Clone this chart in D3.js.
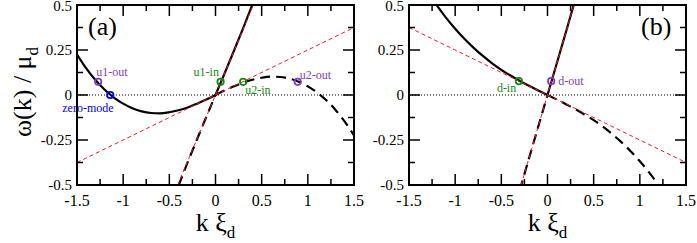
<!DOCTYPE html>
<html>
<head>
<meta charset="utf-8">
<script src="https://cdn.jsdelivr.net/npm/d3@7"></script>
<style>
  body { margin: 0; background: #fff; }
  svg, svg text { font-family: "Liberation Serif", "Times New Roman", Times, "DejaVu Serif", serif; }
</style>
</head>
<body>
<div id="chart"></div>
<script>
// ---- data ----
var xTicks = [-1.5, -1, -0.5, 0, 0.5, 1, 1.5];
var yTicks = [0.5, 0.25, 0, -0.25, -0.5];

// panel (a)
var aSolidK   = [-1.5, -1.4, -1.3, -1.2, -1.1, -1.0, -0.9, -0.8, -0.7, -0.6, -0.5, -0.4, -0.3, -0.2, -0.1, 0, 0.1, 0.2, 0.3, 0.4];
var aSolidW   = [0.225, 0.148, 0.083, 0.029, -0.014, -0.048, -0.074, -0.091, -0.100, -0.102, -0.096, -0.085, -0.069, -0.048, -0.025, 0, 0.122, 0.246, 0.372, 0.503];
var aDashK    = [-0.4, -0.3, -0.2, -0.1, 0, 0.1, 0.2, 0.3, 0.4, 0.5, 0.6, 0.7, 0.8, 0.9, 1.0, 1.1, 1.2, 1.3, 1.4, 1.5];
var aDashW    = [-0.503, -0.372, -0.246, -0.122, 0, 0.025, 0.048, 0.069, 0.085, 0.096, 0.102, 0.100, 0.091, 0.074, 0.048, 0.014, -0.029, -0.083, -0.148, -0.225];
var aRedLines = [[[-1.5, -0.375], [1.5, 0.375]], [[-0.41, -0.5], [0.41, 0.5]]];
var aPoints   = [
  {k: -1.27, w: 0.073, name: 'u1-out',    color: '#7b3fbf', dx: -2,  dy: -6},
  {k: -1.14, w: 0,     name: 'zero-mode', color: '#0000ee', dx: -48, dy: 17},
  {k: 0.055, w: 0.073, name: 'u1-in',     color: '#138a13', dx: -27, dy: -6},
  {k: 0.30,  w: 0.073, name: 'u2-in',     color: '#138a13', dx: 2,   dy: 12},
  {k: 0.89,  w: 0.073, name: 'u2-out',    color: '#7b3fbf', dx: 2,   dy: -3}
];

// panel (b)
var bSolidK   = [-1.3, -1.2, -1.1, -1.0, -0.9, -0.8, -0.7, -0.6, -0.5, -0.4, -0.3, -0.2, -0.1, 0, 0.1, 0.2, 0.3];
var bSolidW   = [0.576, 0.499, 0.430, 0.368, 0.312, 0.262, 0.217, 0.176, 0.140, 0.108, 0.078, 0.051, 0.025, 0, 0.175, 0.351, 0.528];
var bDashK    = [-0.3, -0.2, -0.1, 0, 0.1, 0.2, 0.3, 0.4, 0.5, 0.6, 0.7, 0.8, 0.9, 1.0, 1.1, 1.2, 1.3];
var bDashW    = [-0.528, -0.351, -0.175, 0, -0.025, -0.051, -0.078, -0.108, -0.140, -0.176, -0.217, -0.262, -0.312, -0.368, -0.430, -0.499, -0.576];
var bRedLines = [[[-1.5, 0.375], [1.5, -0.375]], [[-0.286, -0.5], [0.286, 0.5]]];
var bPoints   = [
  {k: -0.31, w: 0.077, name: 'd-in',  color: '#138a13', dx: -22, dy: 11},
  {k: 0.04,  w: 0.077, name: 'd-out', color: '#7b3fbf', dx: 7,   dy: 4}
];

var width = 697, height = 243;
var FONT = '"Liberation Serif", "Times New Roman", Times, serif';
var svg = d3.select('#chart').append('svg')
  .attr('width', width).attr('height', height)
  .attr('font-family', FONT);

// y axis title
var yt = svg.append('text')
  .attr('transform', 'translate(31,92) rotate(-90)')
  .attr('text-anchor', 'middle')
  .style('font-size', '26px');
yt.append('tspan').text('\u03c9(k) / \u03bc');
yt.append('tspan').attr('dy', 7).style('font-size', '17px').text('d');

function panel(id, x0, x1, label, solidK, solidW, dashK, dashW, redLines, points) {
  var x = d3.scaleLinear().domain([-1.5, 1.5]).range([x0, x1]);
  var y = d3.scaleLinear().domain([-0.5, 0.5]).range([185, 5]);
  var g = svg.append('g');

  g.append('clipPath').attr('id', 'clip' + id)
    .append('rect').attr('x', x0).attr('y', 5).attr('width', x1 - x0).attr('height', 180);
  var plot = g.append('g').attr('clip-path', 'url(#clip' + id + ')');

  // zero line
  plot.append('line')
    .attr('x1', x0).attr('x2', x1).attr('y1', y(0)).attr('y2', y(0))
    .attr('stroke', '#000').attr('stroke-width', 1).attr('stroke-dasharray', '1,2');

  var smooth = d3.line().curve(d3.curveMonotoneX)
    .x(function (d) { return x(d[0]); }).y(function (d) { return y(d[1]); });
  var straight = d3.line()
    .x(function (d) { return x(d[0]); }).y(function (d) { return y(d[1]); });

  // solid branch: curved k<=0 part and steep k>=0 part
  var solid = d3.zip(solidK, solidW);
  var iz = solidK.indexOf(0);
  plot.append('path').datum(solid.slice(0, iz + 1)).attr('d', smooth)
    .attr('fill', 'none').attr('stroke', '#000').attr('stroke-width', 2.2);
  plot.append('path').datum(solid.slice(iz)).attr('d', straight)
    .attr('fill', 'none').attr('stroke', '#000').attr('stroke-width', 2.2);

  // dashed branch
  var dash = d3.zip(dashK, dashW);
  var jz = dashK.indexOf(0);
  plot.append('path').datum(dash.slice(0, jz + 1)).attr('d', straight)
    .attr('fill', 'none').attr('stroke', '#000').attr('stroke-width', 2.2)
    .attr('stroke-dasharray', '10,6');
  plot.append('path').datum(dash.slice(jz)).attr('d', smooth)
    .attr('fill', 'none').attr('stroke', '#000').attr('stroke-width', 2.2)
    .attr('stroke-dasharray', '10,6');

  // red asymptotes
  redLines.forEach(function (l) {
    plot.append('line')
      .attr('x1', x(l[0][0])).attr('y1', y(l[0][1]))
      .attr('x2', x(l[1][0])).attr('y2', y(l[1][1]))
      .attr('stroke', '#ee1c2e').attr('stroke-width', 1)
      .attr('stroke-dasharray', '4,3');
  });

  // markers
  points.forEach(function (p) {
    g.append('circle').attr('cx', x(p.k)).attr('cy', y(p.w)).attr('r', 3.2)
      .attr('fill', 'none').attr('stroke', p.color).attr('stroke-width', 1.8);
    g.append('text').attr('x', x(p.k) + p.dx).attr('y', y(p.w) + p.dy)
      .style('font-size', '12px').attr('fill', p.color).text(p.name);
  });

  // frame
  g.append('rect').attr('x', x0).attr('y', 5).attr('width', x1 - x0).attr('height', 180)
    .attr('fill', 'none').attr('stroke', '#000').attr('stroke-width', 2);

  // ticks on all four sides, inward
  d3.range(-1.5, 1.51, 0.25).forEach(function (v) {
    var major = Math.abs(v * 2 - Math.round(v * 2)) < 1e-6;
    var len = major ? 11 : 6;
    g.append('line').attr('x1', x(v)).attr('x2', x(v)).attr('y1', 185).attr('y2', 185 - len)
      .attr('stroke', '#000').attr('stroke-width', 1.5);
    g.append('line').attr('x1', x(v)).attr('x2', x(v)).attr('y1', 5).attr('y2', 5 + len)
      .attr('stroke', '#000').attr('stroke-width', 1.5);
  });
  d3.range(-0.5, 0.51, 0.125).forEach(function (v) {
    var major = Math.abs(v * 4 - Math.round(v * 4)) < 1e-6;
    var len = major ? 11 : 6;
    g.append('line').attr('y1', y(v)).attr('y2', y(v)).attr('x1', x0).attr('x2', x0 + len)
      .attr('stroke', '#000').attr('stroke-width', 1.5);
    g.append('line').attr('y1', y(v)).attr('y2', y(v)).attr('x1', x1).attr('x2', x1 - len)
      .attr('stroke', '#000').attr('stroke-width', 1.5);
  });

  // tick labels
  xTicks.forEach(function (v) {
    g.append('text').attr('x', x(v)).attr('y', 206).attr('text-anchor', 'middle')
      .style('font-size', '16px').text(String(v));
  });
  yTicks.forEach(function (v) {
    g.append('text').attr('x', x0 - 5).attr('y', Math.max(y(v) + 5, 11)).attr('text-anchor', 'end')
      .style('font-size', '15px').text(String(v));
  });

  // x title
  var xtl = g.append('text').attr('x', (x0 + x1) / 2).attr('y', 231)
    .attr('text-anchor', 'middle').style('font-size', '26px');
  xtl.append('tspan').text('k \u03be');
  xtl.append('tspan').attr('dy', 7).style('font-size', '17px').text('d');

  // panel label
  g.append('text').attr('x', label === '(a)' ? x0 + 11 : x1 - 45).attr('y', 35)
    .style('font-size', '26px').text(label);
}

panel('a', 77, 354, '(a)', aSolidK, aSolidW, aDashK, aDashW, aRedLines, aPoints);
panel('b', 409, 686, '(b)', bSolidK, bSolidW, bDashK, bDashW, bRedLines, bPoints);
</script>
</body>
</html>
